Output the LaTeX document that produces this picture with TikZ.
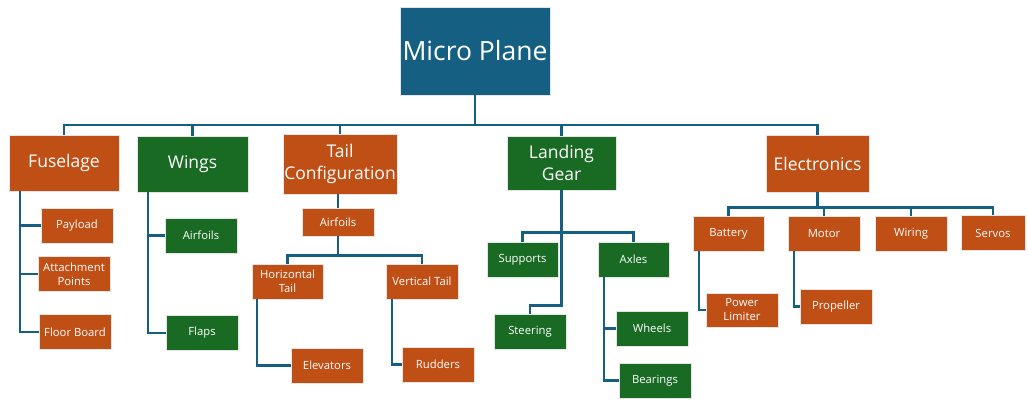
\documentclass[tikz,border=0pt]{standalone}
\usepackage{fontspec}
\setmainfont{Open Sans}
\usepackage{xcolor}
\usepackage{tikz}
\usetikzlibrary{positioning}

\definecolor{rootblue}{HTML}{156082}
\definecolor{partorange}{HTML}{C04F15}
\definecolor{partgreen}{HTML}{196B24}

\begin{document}
\begin{tikzpicture}[x=1pt,y=-1pt,
  box/.style={draw=white!90!black,line width=0.7pt,text=white,align=center,inner sep=1pt},
  rootbox/.style={box,fill=rootblue,minimum width=150,minimum height=88,font=\fontsize{26.5}{30}\selectfont},
  bigbox/.style={box,minimum height=56,font=\fontsize{17.5}{21.5}\selectfont},
  smallbox/.style={box,minimum width=72,minimum height=35,font=\fontsize{11.3}{14}\selectfont},
  orange/.style={fill=partorange},
  green/.style={fill=partgreen},
  link/.style={draw=rootblue,line width=2.3pt}]
  \useasboundingbox (0,0) rectangle (1028,401);

  % top level
  \node[rootbox] (root) at (475,51) {Micro Plane};
  \node[bigbox,orange,minimum width=110] (fuse) at (64,163) {Fuselage};
  \node[bigbox,green,minimum width=111] (wings) at (192.5,164) {Wings};
  \node[bigbox,orange,minimum width=114,minimum height=60] (tail) at (340,164) {Tail\\Configuration};
  \node[bigbox,green,minimum width=109,minimum height=54] (gear) at (561.5,163) {Landing\\Gear};
  \node[bigbox,orange,minimum width=103,minimum height=57] (elec) at (817.5,163.5) {Electronics};

  % fuselage and wings
  \node[smallbox,orange] (payload) at (77,225.5) {Payload};
  \node[smallbox,orange] (attach) at (74,274) {Attachment\\Points};
  \node[smallbox,orange] (floor) at (75,332) {Floor Board};
  \node[smallbox,green] (wairf) at (201,235.5) {Airfoils};
  \node[smallbox,green] (flaps) at (202,333) {Flaps};

  % tail
  \node[smallbox,orange,minimum height=28] (tairf) at (338,222) {Airfoils};
  \node[smallbox,orange,minimum width=71] (htail) at (287.5,281.5) {Horizontal\\Tail};
  \node[smallbox,orange] (vtail) at (422,281.5) {Vertical Tail};
  \node[smallbox,orange] (elev) at (327,365.5) {Elevators};
  \node[smallbox,orange] (rudd) at (438,364.5) {Rudders};

  % landing gear
  \node[smallbox,green,minimum width=71] (supp) at (522.5,259.5) {Supports};
  \node[smallbox,green,minimum width=71] (axles) at (633.5,259.5) {Axles};
  \node[smallbox,green] (steer) at (530,331.5) {Steering};
  \node[smallbox,green] (wheels) at (652,328.5) {Wheels};
  \node[smallbox,green] (bear) at (655,380.5) {Bearings};

  % electronics
  \node[smallbox,orange,minimum width=71] (batt) at (728.5,233.5) {Battery};
  \node[smallbox,orange] (motor) at (824,233.5) {Motor};
  \node[smallbox,orange] (wiring) at (911,233.5) {Wiring};
  \node[smallbox,orange,minimum width=64] (servos) at (993,233) {Servos};
  \node[smallbox,orange,minimum height=34] (plim) at (742,310) {Power\\Limiter};
  \node[smallbox,orange] (prop) at (836,306.5) {Propeller};

  \foreach \n in {fuse,wings,tail,gear,elec}
    \draw[link] (root.south) -- ++(0,30) -| (\n.north);
  \foreach \n in {payload,attach,floor}
    \draw[link] ([xshift=11pt]fuse.south west) |- (\n.west);
  \foreach \n in {wairf,flaps}
    \draw[link] ([xshift=11pt]wings.south west) |- (\n.west);
  \draw[link] (tail.south -| tairf.north) -- (tairf.north);
  \foreach \n in {htail,vtail}
    \draw[link] (tairf.south) -- ++(0,19) -| (\n.north);
  \draw[link] ([xshift=5pt]htail.south west) |- (elev.west);
  \draw[link] ([xshift=6pt]vtail.south west) |- (rudd.west);
  \foreach \n in {supp,axles}
    \draw[link] (gear.south) -- ++(0,42) -| (\n.north);
  \draw[link] (gear.south) -- ++(0,115) -| (steer.north);
  \foreach \n in {wheels,bear}
    \draw[link] ([xshift=6pt]axles.south west) |- (\n.west);
  \foreach \n in {batt,motor,wiring,servos}
    \draw[link] (elec.south) -- ++(0,15) -| (\n.north);
  \draw[link] ([xshift=6pt]batt.south west) |- (plim.west);
  \draw[link] ([xshift=6pt]motor.south west) |- (prop.west);
\end{tikzpicture}
\end{document}
